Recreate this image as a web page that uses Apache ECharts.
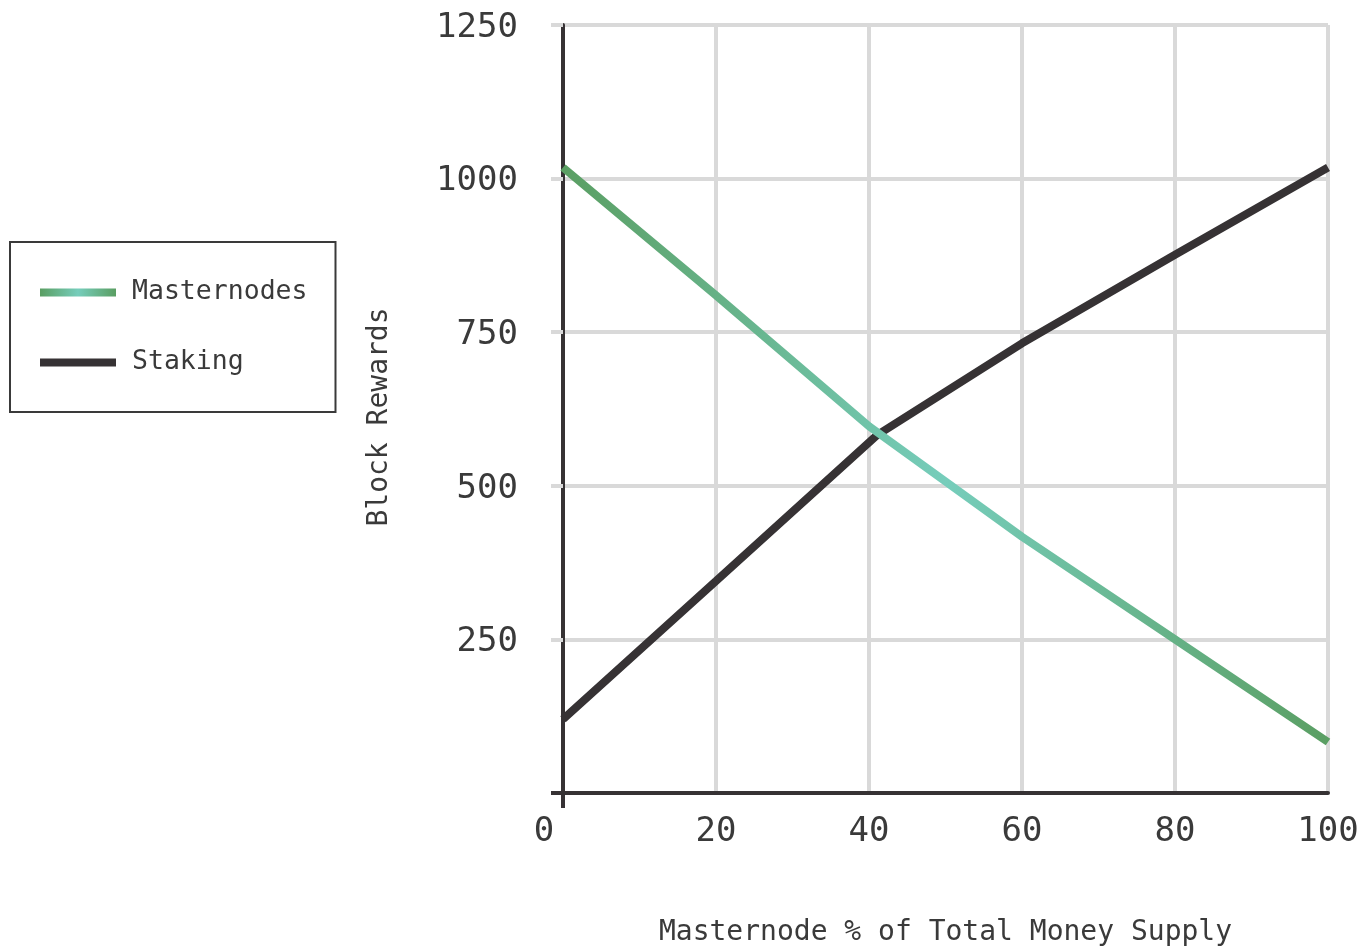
<!DOCTYPE html>
<html>
<head>
<meta charset="utf-8">
<script src="https://cdn.jsdelivr.net/npm/echarts@6/dist/echarts.min.js"></script>
<style>
html,body{margin:0;padding:0;background:#fff;}
#chart{width:1367px;height:948px;}
</style>
</head>
<body>
<div id="chart"></div>
<script>
var masternodesX = [0, 20, 40, 60, 80, 100];
var masternodes = [1018, 810, 597, 417, 250, 83];
var stakingX = [0, 20, 41, 60, 80, 100];
var staking = [120, 345, 582, 732, 876, 1018];
var xTicks = [0, 20, 40, 60, 80, 100];
var yTicks = [0, 250, 500, 750, 1000, 1250];
var seriesNames = ['Masternodes', 'Staking'];
var xAxisTitle = 'Masternode % of Total Money Supply';
var yAxisTitle = 'Block Rewards';

function pairs(xs, ys) { return xs.map(function (x, i) { return [x, ys[i]]; }); }

var FONT = '"DejaVu Sans Mono", monospace';
var TXT = '#3a3a3a';
var DARK = '#363234';
var GRID = '#d9d9d9';

function grad() {
  return new echarts.graphic.LinearGradient(0, 0, 1, 0, [
    { offset: 0, color: '#5a9e62' },
    { offset: 0.5, color: '#76cdbb' },
    { offset: 1, color: '#5a9e62' }
  ]);
}

var chart = echarts.init(document.getElementById('chart'));
chart.setOption({
  backgroundColor: '#ffffff',
  animation: false,
  textStyle: { fontFamily: FONT },
  grid: { left: 563, right: 39, top: 25, bottom: 155, containLabel: false, outerBoundsMode: 'none' },
  legend: {
    orient: 'vertical',
    left: 10,
    top: 242,
    padding: [37, 28, 36, 30],
    borderColor: '#3a3a3a',
    borderWidth: 2,
    itemWidth: 76,
    itemHeight: 8,
    itemGap: 43,
    icon: 'rect',
    textStyle: { fontFamily: FONT, fontSize: 26.5, lineHeight: 26, color: TXT, padding: [0, 0, 0, 11] },
    data: seriesNames
  },
  xAxis: [{
    type: 'value',
    min: 0, max: 100, interval: 20,
    name: xAxisTitle,
    nameLocation: 'middle',
    nameGap: 126,
    nameTextStyle: { fontFamily: FONT, fontSize: 28, color: TXT },
    axisLine: { show: true, lineStyle: { color: DARK, width: 4 } },
    axisTick: { show: false },
    splitLine: { show: true, lineStyle: { color: GRID, width: 4 } },
    axisLabel: {
      fontFamily: FONT, fontSize: 34, color: TXT, margin: 22,
      customValues: xTicks,
      formatter: function (v) { return v === 0 ? '{z|0}' : String(v); },
      rich: { z: { fontFamily: FONT, fontSize: 34, color: TXT, padding: [0, 38, 0, 0] } }
    }
  }, {
    type: 'value',
    position: 'bottom',
    offset: 0,
    min: 0, max: 100, interval: 20,
    axisLine: { show: false },
    axisTick: { show: true, length: 15, customValues: [0], lineStyle: { color: DARK, width: 4 } },
    splitLine: { show: false },
    axisLabel: { show: false }
  }],
  yAxis: [{
    type: 'value',
    min: 0, max: 1250, interval: 250,
    name: yAxisTitle,
    nameLocation: 'middle',
    nameGap: 169,
    nameRotate: 90,
    nameTextStyle: { fontFamily: FONT, fontSize: 28, color: TXT, padding: [0, 16, 0, 0] },
    axisLine: { show: false },
    axisTick: { show: true, length: 12, customValues: yTicks.slice(1), lineStyle: { color: GRID, width: 4 } },
    splitLine: { show: true, lineStyle: { color: GRID, width: 4 } },
    axisLabel: {
      fontFamily: FONT, fontSize: 34, color: TXT, margin: 45,
      customValues: yTicks.slice(1),
      formatter: function (v) { return '{a|' + v + '}'; },
      rich: { a: { fontFamily: FONT, fontSize: 34, color: TXT, padding: [6, 0, 0, 0] } }
    }
  }, {
    type: 'value',
    position: 'left',
    offset: 0,
    min: 0, max: 1250, interval: 250,
    axisLine: { show: true, lineStyle: { color: DARK, width: 4 } },
    axisTick: { show: true, length: 12, customValues: [0], lineStyle: { color: DARK, width: 4 } },
    splitLine: { show: false },
    axisLabel: { show: false }
  }],
  series: [{
    name: seriesNames[0],
    type: 'line',
    showSymbol: false,
    symbol: 'none',
    data: pairs(masternodesX, masternodes),
    lineStyle: { width: 8, color: grad(), cap: 'butt' },
    itemStyle: { color: grad() },
    z: 3
  }, {
    name: seriesNames[1],
    type: 'line',
    showSymbol: false,
    symbol: 'none',
    data: pairs(stakingX, staking),
    lineStyle: { width: 8, color: DARK, cap: 'butt' },
    itemStyle: { color: DARK },
    z: 2
  }]
});
</script>
</body>
</html>
